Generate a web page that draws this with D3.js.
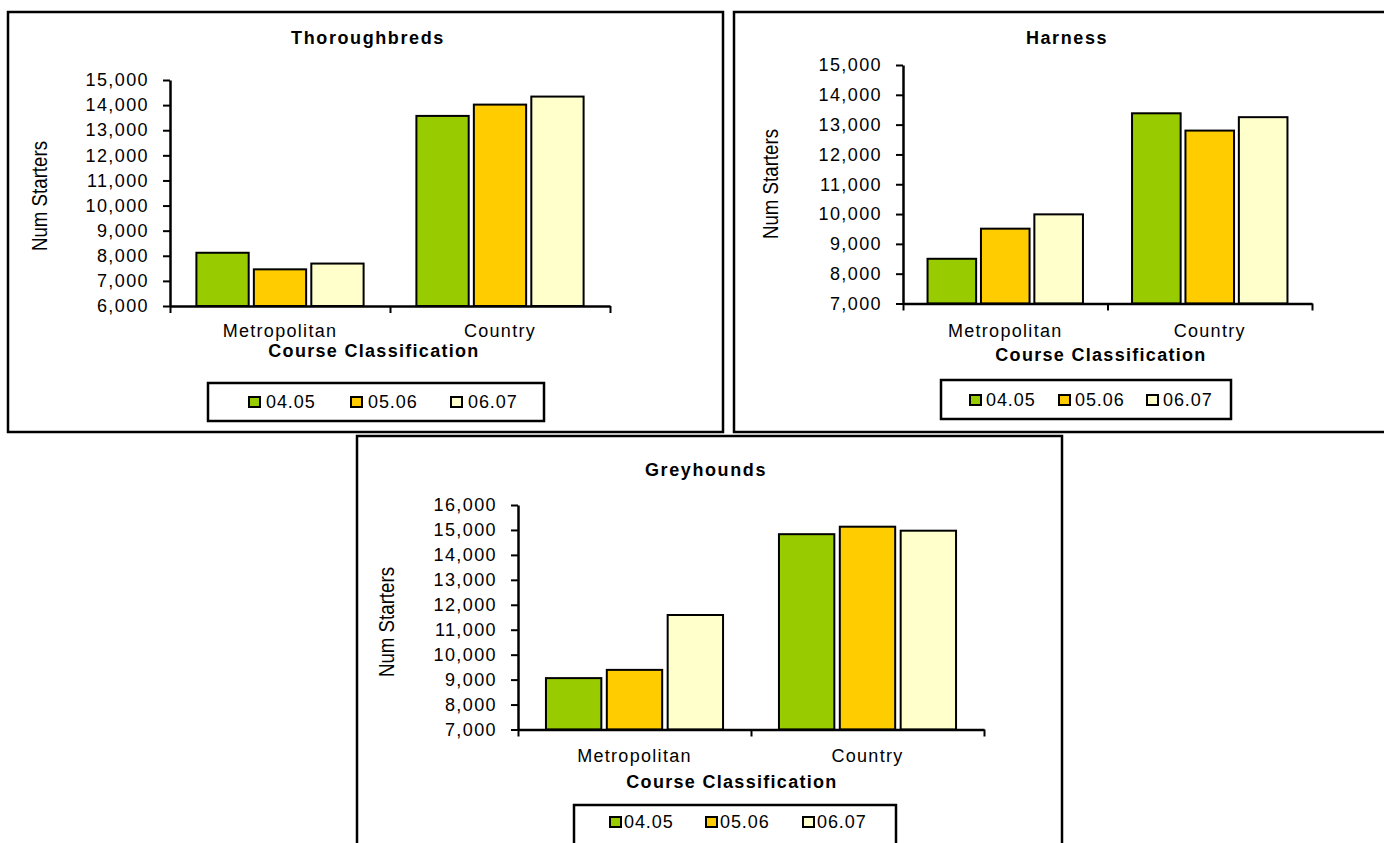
<!DOCTYPE html>
<html>
<head>
<meta charset="utf-8">
<script src="https://cdn.jsdelivr.net/npm/d3@7"></script>
<style>
  html, body { margin: 0; padding: 0; background: #fff; }
  svg { display: block; }
  text { font-family: "Liberation Sans", Arial, sans-serif; fill: #000; }
</style>
</head>
<body>
<svg id="chart" width="1384" height="843"></svg>
<script>
// ---------- data ----------
const categories = ["Metropolitan", "Country"];
const seriesNames = ["04.05", "05.06", "06.07"];
const seriesColors = ["#99CC00", "#FFCC00", "#FFFFCC"];

// values per category, in series order 04.05, 05.06, 06.07
const thoroughbredsMetro   = [8120, 7460, 7690];
const thoroughbredsCountry = [13570, 14020, 14340];
const harnessMetro         = [8500, 9510, 9990];
const harnessCountry       = [13380, 12800, 13250];
const greyhoundsMetro      = [9060, 9390, 11590];
const greyhoundsCountry    = [14830, 15130, 14970];

const thoroughbredsTicks = [6000, 7000, 8000, 9000, 10000, 11000, 12000, 13000, 14000, 15000];
const harnessTicks       = [7000, 8000, 9000, 10000, 11000, 12000, 13000, 14000, 15000];
const greyhoundsTicks    = [7000, 8000, 9000, 10000, 11000, 12000, 13000, 14000, 15000, 16000];

const yAxisTitle = "Num Starters";
const xAxisTitle = "Course Classification";

// ---------- layout ----------
const charts = [
  { title: "Thoroughbreds", values: [thoroughbredsMetro, thoroughbredsCountry], ticks: thoroughbredsTicks,
    frame: [8, 12, 723, 432], px: [170, 610], py: [306, 80],
    titlePos: [368, 44], yLab: [47, 196], xLab: [374, 357], catBase: 337,
    legend: [208, 383, 544, 421], legendX: [249, 351, 451], legendTxt: 19, legendY: 397 },
  { title: "Harness", values: [harnessMetro, harnessCountry], ticks: harnessTicks,
    frame: [734, 12, 1395, 432], px: [903, 1312], py: [303.5, 65],
    titlePos: [1067, 44], yLab: [778, 184], xLab: [1101, 361], catBase: 337,
    legend: [941, 380, 1231, 419], legendX: [970, 1059, 1147], legendTxt: 18, legendY: 395 },
  { title: "Greyhounds", values: [greyhoundsMetro, greyhoundsCountry], ticks: greyhoundsTicks,
    frame: [357, 436, 1062, 860], px: [518, 984], py: [729.5, 505],
    titlePos: [706, 476], yLab: [394, 622], xLab: [732, 788], catBase: 762,
    legend: [574, 805, 896, 860], legendX: [610, 706, 803], legendTxt: 16, legendY: 817 }
];

const svg = d3.select("#chart");
const fmt = d3.format(",");

charts.forEach(c => {
  const g = svg.append("g");
  // frame
  g.append("rect")
    .attr("x", c.frame[0]).attr("y", c.frame[1])
    .attr("width", c.frame[2] - c.frame[0]).attr("height", c.frame[3] - c.frame[1])
    .attr("fill", "#fff").attr("stroke", "#000").attr("stroke-width", 2.5);

  // title
  g.append("text").attr("x", c.titlePos[0]).attr("y", c.titlePos[1])
    .attr("text-anchor", "middle").attr("font-size", 18).attr("font-weight", "bold")
    .attr("letter-spacing", 1.6).text(c.title);

  const y = d3.scaleLinear().domain([c.ticks[0], c.ticks[c.ticks.length - 1]]).range(c.py);
  const x0 = d3.scaleBand().domain(categories).range(c.px).padding(0);
  const bw = x0.bandwidth();
  const x1 = d3.scaleBand().domain(seriesNames).range([0.12 * bw, 0.88 * bw]).paddingInner(0.09).paddingOuter(0);

  // bars
  categories.forEach((cat, ci) => {
    g.append("g").selectAll("rect")
      .data(c.values[ci].map((v, si) => ({ v, s: seriesNames[si], col: seriesColors[si] })))
      .join("rect")
      .attr("x", d => x0(cat) + x1(d.s))
      .attr("width", x1.bandwidth())
      .attr("y", d => y(d.v))
      .attr("height", d => y.range()[0] - y(d.v))
      .attr("fill", d => d.col)
      .attr("stroke", "#000").attr("stroke-width", 2);
  });

  // y axis
  const yAxis = g.append("g").attr("transform", `translate(${c.px[0]},0)`)
    .call(d3.axisLeft(y).tickValues(c.ticks).tickFormat(fmt).tickSize(7).tickSizeOuter(0).tickPadding(14));
  yAxis.select(".domain").attr("stroke", "#000").attr("stroke-width", 2.5);
  yAxis.selectAll(".tick line").attr("stroke", "#000").attr("stroke-width", 2);
  yAxis.selectAll(".tick text").attr("font-size", 18).attr("letter-spacing", 1.4)
    .attr("font-family", "Liberation Sans, Arial, sans-serif").attr("fill", "#000");

  // x axis (category boundaries)
  const xb = d3.scaleLinear().domain([0, categories.length]).range(c.px);
  const xAxis = g.append("g").attr("transform", `translate(0,${c.py[0]})`)
    .call(d3.axisBottom(xb).tickValues(d3.range(categories.length + 1)).tickFormat("").tickSize(7).tickSizeOuter(0));
  xAxis.select(".domain").attr("stroke", "#000").attr("stroke-width", 2.5);
  xAxis.selectAll(".tick line").attr("stroke", "#000").attr("stroke-width", 2);

  // category labels
  g.append("g").selectAll("text").data(categories).join("text")
    .attr("x", d => x0(d) + bw / 2).attr("y", c.catBase)
    .attr("text-anchor", "middle").attr("font-size", 18).attr("letter-spacing", 1.3)
    .text(d => d);

  // x axis title
  g.append("text").attr("x", c.xLab[0]).attr("y", c.xLab[1])
    .attr("text-anchor", "middle").attr("font-size", 18).attr("font-weight", "bold")
    .attr("letter-spacing", 1.3).text(xAxisTitle);

  // y axis title (narrow)
  g.append("text").attr("transform", `translate(${c.yLab[0]},${c.yLab[1]}) rotate(-90)`)
    .attr("text-anchor", "middle").attr("font-size", 22)
    .attr("font-family", "Liberation Sans Narrow, Arial Narrow, Liberation Sans, sans-serif")
    .attr("textLength", 110).attr("lengthAdjust", "spacingAndGlyphs")
    .text(yAxisTitle);

  // legend
  const L = c.legend;
  g.append("rect").attr("x", L[0]).attr("y", L[1]).attr("width", L[2] - L[0]).attr("height", L[3] - L[1])
    .attr("fill", "#fff").attr("stroke", "#000").attr("stroke-width", 2.5);
  const items = g.append("g").selectAll("g").data(seriesNames).join("g")
    .attr("transform", (d, i) => `translate(${c.legendX[i]},${c.legendY})`);
  items.append("rect").attr("width", 11).attr("height", 10)
    .attr("fill", (d, i) => seriesColors[i]).attr("stroke", "#000").attr("stroke-width", 2);
  items.append("text").attr("x", c.legendTxt - 2).attr("y", 11)
    .attr("font-size", 18).attr("letter-spacing", 0.9).text(d => d);
});
</script>
</body>
</html>
